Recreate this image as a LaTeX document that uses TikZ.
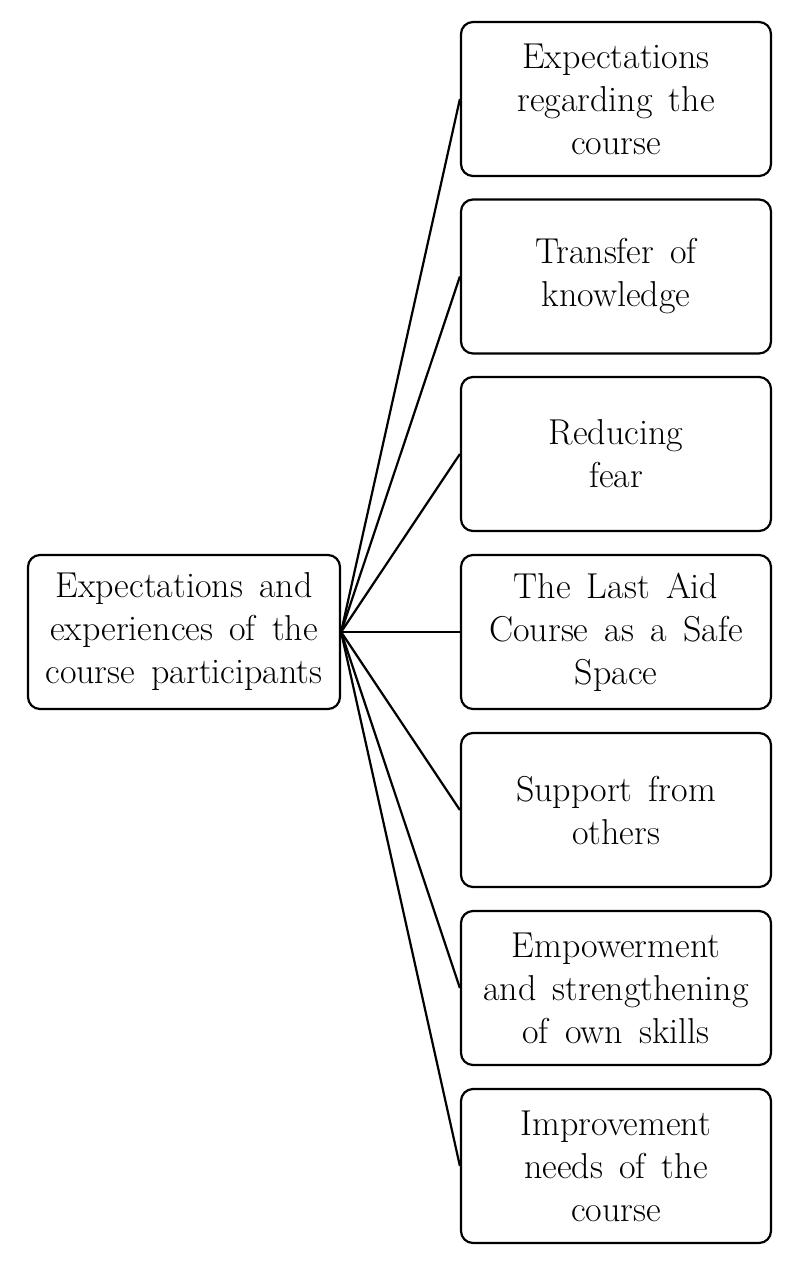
\documentclass[tikz,border=0pt]{standalone}
\newcommand\myboxfont{\fontsize{36}{43}\selectfont\spaceskip=0.45em plus 0.1em\relax}
\begin{document}
\begin{tikzpicture}[x=1pt,y=-1pt,
  box/.style={draw, rounded corners=12pt, line width=2.2pt, minimum width=310pt, minimum height=154pt, align=center, inner sep=0pt, font=\myboxfont},
  link/.style={line width=2.2pt}]
\useasboundingbox (0,0) rectangle (796,1266);
\node[box, minimum width=312pt] (L) at (184,632) {Expectations and\\experiences of the\\course participants};
\node[box] (R1) at (616,99) {Expectations\\regarding the\\course};
\node[box] (R2) at (616,276.5) {Transfer of\\knowledge};
\node[box] (R3) at (616,454) {Reducing\\fear};
\node[box] (R4) at (616,632) {The Last Aid\\Course as a Safe\\Space};
\node[box] (R5) at (616,810) {Support from\\others};
\node[box] (R6) at (616,988) {Empowerment\\and strengthening\\of own skills};
\node[box] (R7) at (616,1166) {Improvement\\needs of the\\course};
\foreach \i in {1,...,7} \draw[link] (L.east) -- (R\i.west);
\end{tikzpicture}
\end{document}
